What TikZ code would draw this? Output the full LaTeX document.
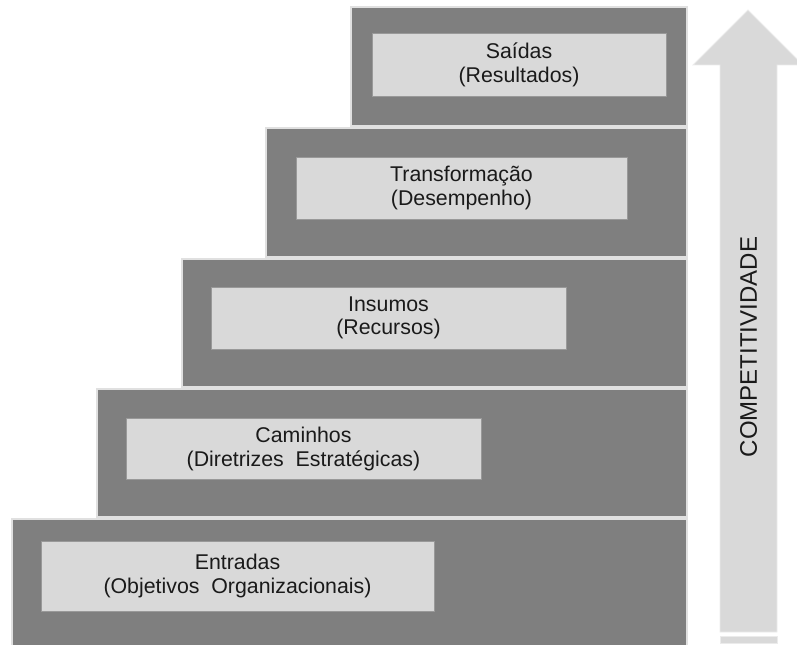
\documentclass[tikz,border=0pt]{standalone}
\usepackage{fontspec}
\setmainfont{Liberation Sans}
\definecolor{stepgray}{HTML}{7F7F7F}
\definecolor{boxgray}{HTML}{D9D9D9}
\definecolor{txtgray}{HTML}{1A1A1A}
\tikzset{
    stepblock/.style={fill=stepgray, draw=black!12, line width=0.8pt},
    labelbox/.style={fill=boxgray, draw=black!40, line width=0.6pt},
    steptext/.style={align=center, text=txtgray, inner sep=0pt,
        font=\fontsize{16}{17.5}\selectfont},
    arrowbody/.style={fill=boxgray, draw=black!8, line width=0.6pt}
}
\begin{document}
\begin{tikzpicture}[x=0.75pt, y=-0.75pt]
    \useasboundingbox (0,0) rectangle (797,645);
    \clip (0,0) rectangle (797,645);
    % degraus
    \draw[stepblock] (351,7) rectangle (687,126);
    \draw[stepblock] (266,128) rectangle (687,257);
    \draw[stepblock] (182,259) rectangle (687,387);
    \draw[stepblock] (97,389) rectangle (687,517);
    \draw[stepblock] (12,519) rectangle (687,650);
    % caixas
    \draw[labelbox] (372,33) rectangle (666,96);
    \draw[labelbox] (296,157) rectangle (627,219);
    \draw[labelbox] (211,287) rectangle (566,349);
    \draw[labelbox] (126,418) rectangle (481,479);
    \draw[labelbox] (41,541) rectangle (434,611);
    \node[steptext] (saidas) at (519,65) {Saídas\\(Resultados)};
    \node[steptext] (transf) at (461.5,188) {Transformação\\(Desempenho)};
    \node[steptext] (insumos) at (388.5,318) {Insumos\\(Recursos)};
    \node[steptext] (caminhos) at (303.5,449) {Caminhos\\(Diretrizes\ \ Estratégicas)};
    \node[steptext] (entradas) at (237.5,576) {Entradas\\(Objetivos\ \ Organizacionais)};
    % seta
    \draw[arrowbody] (720,632) -- (720,65) -- (693,65) -- (748,10)
        -- (803,65) -- (777,65) -- (777,632) -- cycle;
    \draw[arrowbody] (720,636) rectangle (777,643);
    \node[rotate=90, text=txtgray, inner sep=0pt,
        font=\fontsize{18}{20}\selectfont] (compet) at (748.5,347) {COMPETITIVIDADE};
\end{tikzpicture}
\end{document}
